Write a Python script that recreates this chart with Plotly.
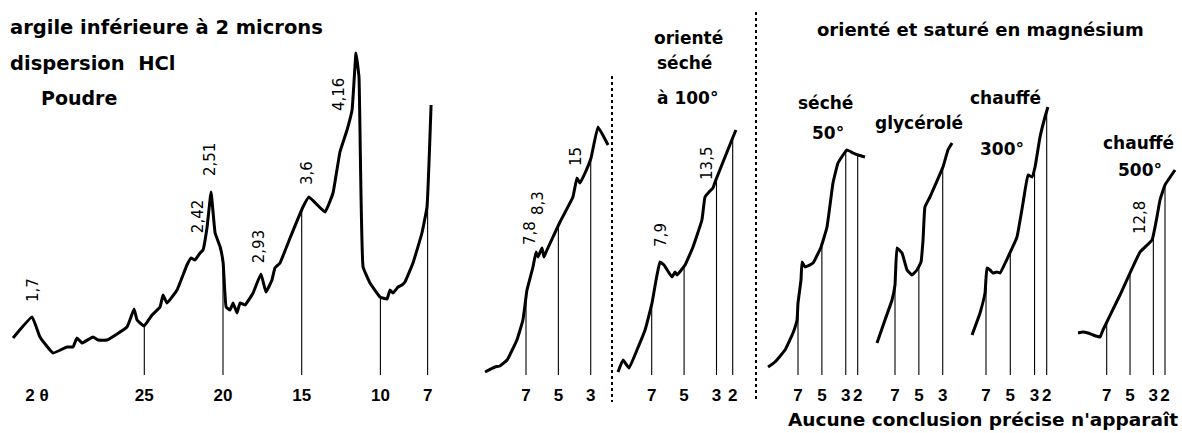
import numpy as np
import plotly.graph_objects as go

# ---------------- DATA (2θ in degrees, intensity in arbitrary units) ----------------
# Panel 1 : Poudre
poudre_2theta = [33.34, 32.13, 31.63, 30.80, 29.91, 29.53, 29.28, 28.96, 28.26, 27.94, 27.37,
                 26.10, 25.65, 25.46, 25.02, 24.51, 24.00, 23.81, 23.56, 22.92, 22.29, 22.03,
                 21.78, 21.46, 21.27, 21.01, 20.76, 20.50, 20.18, 19.99, 19.80, 19.55, 19.36,
                 19.11, 18.92, 18.60, 18.09, 17.59, 17.27, 16.89, 16.70, 16.38, 15.74, 14.92,
                 14.54, 13.52, 13.01, 12.57, 12.12, 11.80, 11.55, 11.36, 11.10, 10.66, 10.02,
                 9.58, 9.39, 9.20, 8.88, 8.63, 8.44, 7.93, 7.36, 7.04, 6.78]
poudre_int = [37, 58, 38, 22, 28, 28, 37, 32, 38, 35, 35,
              48, 66, 55, 49, 60, 68, 80, 72, 85, 110, 117,
              115, 122, 125, 148, 183, 142, 128, 112, 68, 65, 72,
              62, 72, 70, 82, 101, 83, 95, 107, 112, 137, 168,
              178, 163, 182, 223, 245, 265, 322, 298, 108, 92, 78,
              76, 85, 82, 88, 90, 93, 112, 142, 168, 270]
poudre_ticks = [25, 20, 15, 10, 7]

# Panel 2 : orienté
orient_2theta = [9.53, 8.92, 8.61, 8.17, 7.56, 7.19, 7.00, 6.94, 6.57, 6.38, 6.26, 6.01,
                 5.89, 5.76, 4.90, 4.10, 3.85, 3.66, 3.35, 2.98, 2.55, 1.93]
orient_int = [3, 8, 9, 15, 35, 55, 78, 85, 108, 123, 118, 127,
              118, 123, 153, 178, 197, 192, 202, 217, 248, 230]
orient_ticks = [7, 5, 3]

# Panel 3 : orienté séché à 100°
sec100_2theta = [9.08, 8.77, 8.40, 7.91, 7.41, 6.98, 6.73, 6.49, 6.24, 5.75, 5.56, 5.44,
                 4.94, 4.45, 3.90, 3.71, 3.46, 3.22, 3.09, 1.98, 1.80]
sec100_int = [3, 15, 7, 25, 45, 72, 95, 113, 110, 98, 103, 100,
              110, 128, 155, 178, 183, 187, 193, 238, 245]
sec100_ticks = [7, 5, 3, 2]

# Panel 4 : Mg, séché 50°
sec50_2theta = [9.51, 8.93, 8.09, 7.42, 7.08, 7.00, 6.75, 6.66, 6.41, 5.74, 5.07, 4.57,
                4.07, 3.65, 2.90, 2.39, 1.97, 1.39]
sec50_int = [8, 13, 25, 42, 55, 72, 95, 113, 108, 112, 128, 148,
             192, 212, 225, 222, 220, 218]
sec50_ticks = [7, 5, 3, 2]

# Panel 5 : Mg, glycérolé
glyc_2theta = [8.51, 7.84, 7.25, 7.00, 6.83, 6.41, 5.99, 5.58, 5.16, 4.82, 4.65, 4.49,
               4.07, 2.98, 2.56, 2.22]
glyc_int = [32, 55, 75, 90, 127, 122, 105, 100, 105, 113, 135, 168,
            178, 208, 225, 232]
glyc_ticks = [7, 5, 3]

# Panel 6 : Mg, chauffé 300°
ch300_2theta = [8.15, 7.49, 7.08, 6.92, 6.67, 6.42, 6.09, 5.85, 5.11, 4.45, 3.95, 3.54,
                3.21, 2.96, 2.55, 2.14, 1.90]
ch300_int = [40, 62, 82, 107, 105, 102, 103, 102, 120, 138, 172, 200,
             198, 208, 238, 258, 268]
ch300_ticks = [7, 5, 3, 2]

# Panel 7 : Mg, chauffé 500°
ch500_2theta = [9.46, 9.03, 8.60, 8.17, 7.57, 7.32, 5.86, 5.00, 4.14, 3.11, 2.69, 2.43,
                2.00, 1.14]
ch500_int = [42, 43, 42, 40, 38, 45, 80, 102, 123, 135, 158, 175, 190, 205]
ch500_ticks = [7, 5, 3, 2]

# Peak labels (d-spacings): panel index, 2θ, intensity, text
peak_panel = [0, 0, 0, 0, 0, 0, 1, 1, 1, 2, 2, 6]
peak_2theta = [32.07, 21.58, 20.82, 17.70, 14.66, 12.63, 6.75, 6.26, 3.91, 6.43, 3.59, 4.14]
peak_int = [85, 158, 215, 128, 202, 280, 142, 172, 218, 140, 212, 157]
peak_text = ["1,7", "2,42", "2,51", "2,93", "3,6", "4,16", "7,8", "8,3", "15", "7,9", "13,5", "12,8"]

# ---------------- LAYOUT CONFIG ----------------
W, H = 1182, 433
BASE = 375  # pixel row of the baseline (bottom of plot area)

# per panel: (reference tick px, reference deg, px per degree, domain left px, domain right px)
axis_cfg = [
    (144.3, 25, 15.74, 0, 440),
    (526.0, 7, 16.18, 470, 612),
    (651.7, 7, 16.20, 612, 756),
    (798.0, 7, 11.94, 756, 870),
    (895.0, 7, 11.93, 870, 960),
    (986.0, 7, 12.14, 960, 1060),
    (1106.7, 7, 11.66, 1060, 1182),
]

panels = [
    (poudre_2theta, poudre_int, poudre_ticks),
    (orient_2theta, orient_int, orient_ticks),
    (sec100_2theta, sec100_int, sec100_ticks),
    (sec50_2theta, sec50_int, sec50_ticks),
    (glyc_2theta, glyc_int, glyc_ticks),
    (ch300_2theta, ch300_int, ch300_ticks),
    (ch500_2theta, ch500_int, ch500_ticks),
]

HEAD_FONT = "DejaVu Sans"
TICK_FONT = "Liberation Sans"
fig = go.Figure()

for i, ((xs, ys, ticks), (pref, dref, s, d0, d1)) in enumerate(zip(panels, axis_cfg)):
    xname = "x" if i == 0 else f"x{i+1}"
    fig.add_trace(go.Scatter(x=xs, y=ys, mode="lines", xaxis=xname, yaxis="y",
                             line=dict(color="black", width=3, shape="spline", smoothing=0.3),
                             hoverinfo="skip", showlegend=False))
    xa = np.array(xs)[::-1]
    ya = np.array(ys)[::-1]
    dx, dy = [], []
    for t in ticks:
        dx += [t, t, None]
        dy += [float(np.interp(t, xa, ya)), 0, None]
    fig.add_trace(go.Scatter(x=dx, y=dy, mode="lines", xaxis=xname, yaxis="y",
                             line=dict(color="black", width=1.1),
                             hoverinfo="skip", showlegend=False))
    r0 = dref + (pref - d0) / s
    r1 = dref - (d1 - pref) / s
    tickvals = list(ticks)
    ticktext = [str(t) for t in ticks]
    if i == 0:
        tickvals = [dref + (pref - 37) / s] + tickvals
        ticktext = ["2 θ"] + ticktext
    ax = dict(domain=[d0 / W, d1 / W], range=[r0, r1], showgrid=False, zeroline=False,
              showline=False, ticks="", tickvals=tickvals, ticktext=ticktext,
              tickfont=dict(family=TICK_FONT, size=17, color="black", weight="bold"),
              ticklabelstandoff=8, fixedrange=True)
    if i > 0:
        ax["anchor"] = "y"
    fig.update_layout(**{("xaxis" if i == 0 else f"xaxis{i+1}"): ax})

fig.update_layout(
    width=W, height=H,
    margin=dict(l=0, r=0, t=0, b=H - BASE, pad=0),
    paper_bgcolor="white", plot_bgcolor="white",
    yaxis=dict(domain=[0, 1], range=[0, BASE], visible=False, fixedrange=True),
    showlegend=False,
)

for p, t, v, txt in zip(peak_panel, peak_2theta, peak_int, peak_text):
    xname = "x" if p == 0 else f"x{p+1}"
    fig.add_annotation(x=t, y=v, xref=xname, yref="y", text=txt, showarrow=False,
                       textangle=-90, font=dict(family=HEAD_FONT, size=15, color="black"))


def px(x, y):
    return x / W, (BASE - y) / BASE


def add_text(txt, x, y, size=17, xanchor="center"):
    xx, yy = px(x, y)
    fig.add_annotation(x=xx, y=yy, xref="paper", yref="paper", text=txt, showarrow=False,
                       xanchor=xanchor, yanchor="middle",
                       font=dict(family=HEAD_FONT, size=size, color="black", weight="bold"))


add_text("argile inférieure à 2 microns", 8, 28, 19.5, "left")
add_text("dispersion  HCl", 8, 63, 19.5, "left")
add_text("Poudre", 39, 98, 19, "left")
add_text("orienté", 688, 38, 17)
add_text("séché", 684, 63, 17)
add_text("à 100°", 687, 98, 17)
add_text("orienté et saturé en magnésium", 980, 29, 18)
add_text("séché", 825, 103, 17)
add_text("50°", 828, 133, 17)
add_text("glycérolé", 919, 123, 17)
add_text("chauffé", 1005, 98, 17)
add_text("300°", 1002, 149, 17)
add_text("chauffé", 1138, 143, 17)
add_text("500°", 1140, 170, 17)
add_text("Aucune conclusion précise n'apparaît", 983, 419, 18.5)

for sx, sy0, sy1 in [(612, 76, 402), (756, 12, 400)]:
    x0, y0 = px(sx, sy0)
    _, y1 = px(sx, sy1)
    fig.add_shape(type="line", xref="paper", yref="paper", x0=x0, x1=x0, y0=y0, y1=y1,
                  line=dict(color="black", width=2, dash="dot"))

fig.write_html("out.html", config={"displayModeBar": False},
               post_script="document.body.style.margin='0';document.body.style.padding='0';")
